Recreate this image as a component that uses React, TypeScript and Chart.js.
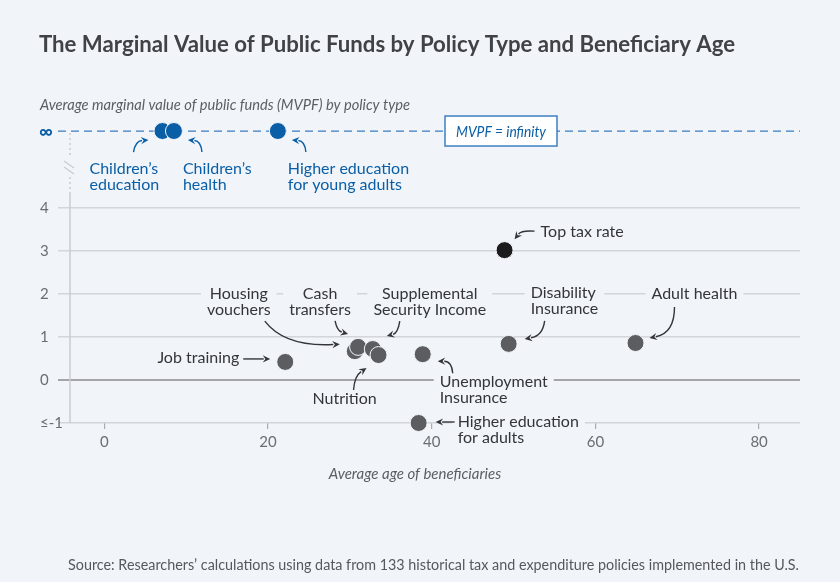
import React, { useEffect, useRef } from "react";
import { Chart, registerables } from "chart.js";

Chart.register(...registerables);

// ---------- data ----------
const policies = [
  "Children’s education",
  "Children’s health",
  "Higher education for young adults",
  "Top tax rate",
  "Housing vouchers",
  "Cash transfers",
  "Supplemental Security Income",
  "Nutrition",
  "Job training",
  "Unemployment Insurance",
  "Higher education for adults",
  "Disability Insurance",
  "Adult health",
];
const ages = [7.1, 8.5, 21.2, 48.9, 30.6, 31.0, 32.8, 33.5, 22.1, 38.9, 38.4, 49.4, 64.9];
const mvpf = [Infinity, Infinity, Infinity, 3.02, 0.67, 0.77, 0.72, 0.58, 0.42, 0.6, -1, 0.84, 0.86];
const kinds = ["inf", "inf", "inf", "tax", "gray", "gray", "gray", "gray", "gray", "gray", "gray", "gray", "gray"];

const xTicks = [0, 20, 40, 60, 80];
const yTicks = [-1, 0, 1, 2, 3, 4];
const INF_ROW = 5.79; // where the "infinity" row sits on the value axis

// ---------- styling ----------
const BG = "#f1f5fa";
const BLUE = "#0a5ea6";
const DASH_BLUE = "#3a7cbd";
const GRAY_PT = "#5b5d61";
const BLACK_PT = "#1c1c1c";
const TXT = "#333538";
const FONT = "Lato, 'Noto Sans', sans-serif";

// label layout: text lines, offsets (px) relative to the point they describe
type Ann = {
  i: number;
  lines: string[];
  dx: number;
  dy: number;
  align: CanvasTextAlign;
  box?: boolean;
  blue?: boolean;
  arrow: number[]; // sx, sy, ex, ey, [cx, cy]
};
const annotations: Ann[] = [
  { i: 0, lines: ["Children’s", "education"], dx: -73, dy: 38, align: "left", blue: true, arrow: [-29, 21, -14, 9, -27, 10] },
  { i: 1, lines: ["Children’s", "health"], dx: 9, dy: 38, align: "left", blue: true, arrow: [28, 21, 14, 9, 27, 10] },
  { i: 2, lines: ["Higher education", "for young adults"], dx: 10, dy: 38, align: "left", blue: true, arrow: [28, 21, 14, 9, 27, 10] },
  { i: 3, lines: ["Top tax rate"], dx: 36, dy: -18, align: "left", arrow: [30, -19, 10, -11, 17, -20] },
  { i: 4, lines: ["Housing", "vouchers"], dx: -116, dy: -57, align: "center", box: true, arrow: [-90, -30, -15, -7, -70, -4] },
  { i: 5, lines: ["Cash", "transfers"], dx: -38, dy: -53, align: "center", box: true, arrow: [-23, -26, -10, -13, -21, -16] },
  { i: 6, lines: ["Supplemental", "Security Income"], dx: 57, dy: -55, align: "center", box: true, arrow: [27, -28, 14, -13, 25, -16] },
  { i: 7, lines: ["Nutrition"], dx: -34, dy: 44, align: "center", arrow: [-25, 35, -12, 13, -24, 21] },
  { i: 8, lines: ["Job training"], dx: -46, dy: -4, align: "right", arrow: [-42, -3, -15, -3] },
  { i: 9, lines: ["Unemployment", "Insurance"], dx: 17, dy: 28, align: "left", box: true, arrow: [30, 19, 15, 7, 29, 7] },
  { i: 10, lines: ["Higher education", "for adults"], dx: 39, dy: -1, align: "left", box: true, arrow: [36, -1, 17, -1] },
  { i: 11, lines: ["Disability", "Insurance"], dx: 22, dy: -51, align: "left", box: true, arrow: [36, -23, 16, -5, 34, -8] },
  { i: 12, lines: ["Adult health"], dx: 16, dy: -49, align: "left", box: true, arrow: [39, -36, 14, -5, 39, -10] },
];

function drawArrow(ctx: CanvasRenderingContext2D, px: number, py: number, a: number[], color: string) {
  const [sx, sy, ex, ey, cx, cy] = a;
  const S = [px + sx, py + sy];
  const E = [px + ex, py + ey];
  const hasC = cx !== undefined;
  const C = hasC ? [px + cx, py + cy] : S;
  const ang = Math.atan2(E[1] - C[1], E[0] - C[0]);
  const L = 7.5, W = 3.6;
  const baseX = E[0] - Math.cos(ang) * (L - 1);
  const baseY = E[1] - Math.sin(ang) * (L - 1);
  ctx.save();
  ctx.strokeStyle = color;
  ctx.fillStyle = color;
  ctx.lineWidth = 1.4;
  ctx.beginPath();
  ctx.moveTo(S[0], S[1]);
  if (hasC) ctx.quadraticCurveTo(C[0], C[1], baseX, baseY);
  else ctx.lineTo(baseX, baseY);
  ctx.stroke();
  ctx.beginPath();
  ctx.moveTo(E[0], E[1]);
  ctx.lineTo(E[0] - L * Math.cos(ang) + W * Math.sin(ang), E[1] - L * Math.sin(ang) - W * Math.cos(ang));
  ctx.lineTo(E[0] - 0.65 * L * Math.cos(ang), E[1] - 0.65 * L * Math.sin(ang));
  ctx.lineTo(E[0] - L * Math.cos(ang) - W * Math.sin(ang), E[1] - L * Math.sin(ang) + W * Math.cos(ang));
  ctx.closePath();
  ctx.fill();
  ctx.restore();
}

const overlay = {
  id: "overlay",
  beforeDraw(chart: any) {
    const { ctx, width, height } = chart;
    ctx.save();
    ctx.fillStyle = BG;
    ctx.fillRect(0, 0, width, height);
    ctx.restore();
  },
  beforeDatasetsDraw(chart: any) {
    const { ctx, chartArea, scales } = chart;
    const yInf = scales.y.getPixelForValue(INF_ROW);
    const y4 = scales.y.getPixelForValue(4);
    const yBottom = scales.y.getPixelForValue(-1);
    const ax = chartArea.left;
    ctx.save();
    // vertical axis
    ctx.strokeStyle = "#c8cbd0";
    ctx.lineWidth = 1.5;
    ctx.beginPath();
    ctx.moveTo(ax, y4 - 14);
    ctx.lineTo(ax, yBottom);
    ctx.stroke();
    ctx.setLineDash([2, 3]);
    ctx.beginPath();
    ctx.moveTo(ax, yInf + 2);
    ctx.lineTo(ax, yInf + 27);
    ctx.moveTo(ax, yInf + 46);
    ctx.lineTo(ax, y4 - 14);
    ctx.stroke();
    ctx.setLineDash([]);
    ctx.lineWidth = 1.2;
    ctx.beginPath();
    ctx.moveTo(ax - 6, yInf + 30);
    ctx.lineTo(ax + 4, yInf + 37);
    ctx.moveTo(ax - 6, yInf + 36);
    ctx.lineTo(ax + 4, yInf + 43);
    ctx.stroke();
    // infinity dashed line
    ctx.strokeStyle = DASH_BLUE;
    ctx.lineWidth = 1.3;
    ctx.setLineDash([8, 5]);
    ctx.beginPath();
    ctx.moveTo(ax - 12, yInf);
    ctx.lineTo(chartArea.right, yInf);
    ctx.stroke();
    ctx.setLineDash([]);
    // infinity label
    ctx.fillStyle = BLUE;
    ctx.font = `bold 19px ${FONT}`;
    ctx.textAlign = "left";
    ctx.textBaseline = "middle";
    ctx.fillText("∞", 39, yInf + 1);
    // MVPF = infinity box
    const bx = 445, bw = 112, bh = 30;
    ctx.fillStyle = "#ffffff";
    ctx.fillRect(bx, yInf - bh / 2, bw, bh);
    ctx.strokeStyle = "#3f7fc0";
    ctx.lineWidth = 1.5;
    ctx.strokeRect(bx, yInf - bh / 2, bw, bh);
    ctx.fillStyle = BLUE;
    ctx.font = `italic 15px ${FONT}`;
    ctx.textAlign = "center";
    ctx.fillText("MVPF = infinity", bx + bw / 2, yInf + 1, 90);
    ctx.restore();
  },
  afterDatasetsDraw(chart: any) {
    const { ctx, scales } = chart;
    ctx.save();
    // titles
    ctx.textBaseline = "alphabetic";
    ctx.textAlign = "left";
    ctx.fillStyle = "#404246";
    ctx.font = `bold 23.5px ${FONT}`;
    ctx.fillText("The Marginal Value of Public Funds by Policy Type and Beneficiary Age", 39, 52, 696);
    ctx.fillStyle = "#5b5e63";
    ctx.font = `italic 15px ${FONT}`;
    ctx.fillText("Average marginal value of public funds (MVPF) by policy type", 40, 110, 370);
    ctx.textAlign = "center";
    ctx.fillText("Average age of beneficiaries", 415, 479, 174);
    ctx.textAlign = "left";
    ctx.fillStyle = "#55585c";
    ctx.font = `14.5px ${FONT}`;
    ctx.fillText(
      "Source: Researchers’ calculations using data from 133 historical tax and expenditure policies implemented in the U.S.",
      68,
      570,
      731
    );
    // annotations
    for (const a of annotations) {
      const v = mvpf[a.i] === Infinity ? INF_ROW : mvpf[a.i];
      const px = scales.x.getPixelForValue(ages[a.i]);
      const py = scales.y.getPixelForValue(v);
      const color = a.blue ? BLUE : TXT;
      ctx.font = `16px ${FONT}`;
      const lh = 16;
      const tx = px + a.dx;
      const ty = py + a.dy;
      if (a.box) {
        const w = Math.max(...a.lines.map((l) => ctx.measureText(l).width));
        let left = tx;
        if (a.align === "center") left = tx - w / 2;
        if (a.align === "right") left = tx - w;
        ctx.fillStyle = BG;
        ctx.fillRect(left - 6, ty - 9, w + 12, lh * (a.lines.length - 1) + 18);
      }
      ctx.fillStyle = color;
      ctx.textAlign = a.align;
      ctx.textBaseline = "middle";
      a.lines.forEach((l, k) => ctx.fillText(l, tx, ty + k * lh));
      drawArrow(ctx, px, py, a.arrow, a.blue ? BLUE : "#333538");
    }
    ctx.restore();
  },
};

export default function App() {
  const ref = useRef<HTMLCanvasElement>(null);
  useEffect(() => {
    if (!ref.current) return;
    const pts = ages.map((x, k) => ({ x, y: mvpf[k] === Infinity ? INF_ROW : mvpf[k] }));
    const colors = kinds.map((k) => (k === "inf" ? BLUE : k === "tax" ? BLACK_PT : GRAY_PT));
    const chart = new Chart(ref.current, {
      type: "scatter",
      data: {
        labels: policies,
        datasets: [
          {
            label: "MVPF",
            data: pts,
            pointRadius: 8.5,
            pointHoverRadius: 8.5,
            pointBackgroundColor: colors,
            pointBorderColor: BG,
            pointBorderWidth: 1,
            clip: false as any,
          },
        ],
      },
      options: {
        animation: false,
        responsive: false,
        devicePixelRatio: 1,
        layout: { padding: { left: 40, right: 40, top: 122, bottom: 119 } },
        plugins: { legend: { display: false }, tooltip: { enabled: false }, title: { display: false } },
        scales: {
          x: {
            type: "linear",
            min: -4.2,
            max: 85,
            afterBuildTicks: (s: any) => {
              s.ticks = xTicks.map((v) => ({ value: v }));
            },
            afterFit: (s: any) => {
              s.height = 40;
            },
            ticks: { color: "#6a6d71", font: { family: FONT, size: 15 }, padding: 4, autoSkip: false, maxRotation: 0 },
            grid: { drawOnChartArea: false, tickLength: 6, color: "#a9acb0", lineWidth: 1.2 },
            border: { display: false },
          },
          y: {
            min: -1,
            max: 6,
            afterBuildTicks: (s: any) => {
              s.ticks = yTicks.map((v) => ({ value: v }));
            },
            afterFit: (s: any) => {
              s.width = 30;
            },
            ticks: {
              color: "#6a6d71",
              font: { family: FONT, size: 15 },
              crossAlign: "far",
              padding: 0,
              autoSkip: false,
              callback: (v: any) => (v === -1 ? "≤-1" : String(v)),
            },
            grid: {
              color: (c: any) => (c.tick && c.tick.value === 0 ? "#a3a5a9" : "#d2d5d9"),
              lineWidth: (c: any) => (c.tick && c.tick.value === 0 ? 2 : 1.5),
              tickLength: 12,
            },
            border: { display: false },
          },
        },
      },
      plugins: [overlay],
    });
    return () => chart.destroy();
  }, []);
  return (
    <div style={{ width: 840, height: 582, background: BG, position: "relative" }}>
      <style>{`body{margin:0;background:${BG};}`}</style>
      <canvas ref={ref} width={840} height={582} style={{ display: "block" }} />
    </div>
  );
}
